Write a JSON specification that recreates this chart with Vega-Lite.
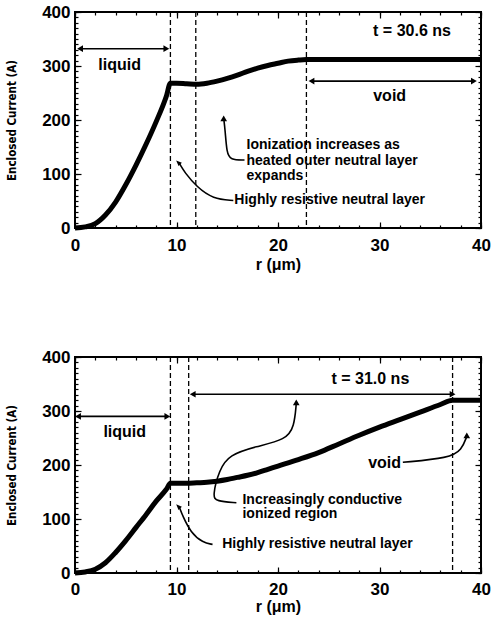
{
  "$schema": "https://vega.github.io/schema/vega-lite/v6.json",
  "background": "white",
  "padding": {"top": 2, "left": 5, "right": 5, "bottom": 0},
  "spacing": 74,
  "config": {
    "view": {"stroke": "black", "strokeWidth": 2},
    "font": "Liberation Sans",
    "axis": {"zindex": 2, "domain": false, "grid": false, "labelFont": "Liberation Sans", "labelFontWeight": "bold", "labelFontSize": 17, "labelColor": "black", "tickColor": "black", "tickWidth": 1.2, "titleColor": "black", "labelFlush": false, "labelOverlap": false}
  },
  "datasets": {
    "curve1": [
      {"r": 0, "I": 0}, {"r": 1, "I": 2}, {"r": 2, "I": 8}, {"r": 3, "I": 24}, {"r": 4, "I": 48}, {"r": 5, "I": 80}, {"r": 6, "I": 116}, {"r": 7, "I": 155}, {"r": 8, "I": 197}, {"r": 9, "I": 244}, {"r": 9.4, "I": 268}, {"r": 10, "I": 268}, {"r": 11, "I": 267}, {"r": 12, "I": 266}, {"r": 13, "I": 268}, {"r": 14, "I": 272}, {"r": 15, "I": 277}, {"r": 16, "I": 283}, {"r": 17, "I": 290}, {"r": 18, "I": 296}, {"r": 19, "I": 301}, {"r": 20, "I": 305}, {"r": 21, "I": 309}, {"r": 22, "I": 311}, {"r": 22.8, "I": 312}, {"r": 30, "I": 312}, {"r": 40, "I": 312}
    ],
    "curve2": [
      {"r": 0, "I": 0}, {"r": 1, "I": 2}, {"r": 2, "I": 7}, {"r": 3, "I": 19}, {"r": 4, "I": 38}, {"r": 5, "I": 60}, {"r": 6, "I": 84}, {"r": 7, "I": 108}, {"r": 8, "I": 133}, {"r": 9, "I": 155}, {"r": 9.4, "I": 166}, {"r": 10, "I": 166}, {"r": 11, "I": 166}, {"r": 12, "I": 167}, {"r": 13, "I": 168}, {"r": 14, "I": 170}, {"r": 15, "I": 173}, {"r": 16, "I": 177}, {"r": 17, "I": 181}, {"r": 18, "I": 186}, {"r": 19, "I": 192}, {"r": 20, "I": 198}, {"r": 22, "I": 210}, {"r": 24, "I": 223}, {"r": 26, "I": 239}, {"r": 28, "I": 255}, {"r": 30, "I": 270}, {"r": 32, "I": 284}, {"r": 34, "I": 298}, {"r": 36, "I": 312}, {"r": 37.2, "I": 320}, {"r": 40, "I": 320}
    ],
    "vlines1": [{"r": 9.4}, {"r": 11.9}, {"r": 22.8}],
    "vlines2": [{"r": 9.4}, {"r": 11.2}, {"r": 37.2}],
    "dbl1": [{"x1": 0.5, "x2": 9.0, "y": 332}, {"x1": 23.3, "x2": 39.3, "y": 272}],
    "dbl2": [{"x1": 0.3, "x2": 9.1, "y": 290}, {"x1": 11.6, "x2": 37.2, "y": 331}],
    "heads1": [
      {"x": 0.5, "y": 332, "dir": "left"}, {"x": 9.0, "y": 332, "dir": "right"}, {"x": 23.3, "y": 272, "dir": "left"}, {"x": 39.3, "y": 272, "dir": "right"}, {"x": 14.65, "y": 203, "dir": "up"}, {"x": 10.3, "y": 119, "dir": "upleft"}
    ],
    "heads2": [
      {"x": 0.3, "y": 290, "dir": "left"}, {"x": 9.1, "y": 290, "dir": "right"}, {"x": 11.6, "y": 331, "dir": "left"}, {"x": 37.2, "y": 331, "dir": "right"}, {"x": 21.8, "y": 316, "dir": "up"}, {"x": 38.6, "y": 255, "dir": "up"}, {"x": 10.3, "y": 121, "dir": "upleft"}
    ],
    "arrows1": [
      {"id": "a", "ord": 1, "x": 16.7, "y": 126}, {"id": "a", "ord": 2, "x": 15.3, "y": 126}, {"id": "a", "ord": 3, "x": 14.95, "y": 140}, {"id": "a", "ord": 4, "x": 14.8, "y": 180}, {"id": "a", "ord": 5, "x": 14.65, "y": 203},
      {"id": "b", "ord": 1, "x": 15.6, "y": 51}, {"id": "b", "ord": 2, "x": 13.6, "y": 54}, {"id": "b", "ord": 3, "x": 12.0, "y": 76}, {"id": "b", "ord": 4, "x": 10.8, "y": 103}, {"id": "b", "ord": 5, "x": 10.3, "y": 119}
    ],
    "arrows2": [
      {"id": "a", "ord": 1, "x": 15.9, "y": 130}, {"id": "a", "ord": 2, "x": 13.9, "y": 133}, {"id": "a", "ord": 3, "x": 13.55, "y": 142}, {"id": "a", "ord": 4, "x": 14.2, "y": 191}, {"id": "a", "ord": 5, "x": 15.2, "y": 219}, {"id": "a", "ord": 6, "x": 17.8, "y": 234}, {"id": "a", "ord": 7, "x": 20.8, "y": 247}, {"id": "a", "ord": 8, "x": 21.6, "y": 271}, {"id": "a", "ord": 9, "x": 21.8, "y": 314},
      {"id": "b", "ord": 1, "x": 32.3, "y": 205}, {"id": "b", "ord": 2, "x": 36.9, "y": 213}, {"id": "b", "ord": 3, "x": 38.1, "y": 228}, {"id": "b", "ord": 4, "x": 38.6, "y": 253},
      {"id": "c", "ord": 1, "x": 13.55, "y": 53}, {"id": "c", "ord": 2, "x": 12.6, "y": 56}, {"id": "c", "ord": 3, "x": 11.4, "y": 75}, {"id": "c", "ord": 4, "x": 10.6, "y": 106}, {"id": "c", "ord": 5, "x": 10.3, "y": 121}
    ],
    "labels1": [{"x": 4.4, "y": 301, "text": "liquid"}, {"x": 31.0, "y": 244, "text": "void"}, {"x": 33.2, "y": 365, "text": "t =   30.6 ns"}],
    "labels2": [{"x": 4.9, "y": 261, "text": "liquid"}, {"x": 30.5, "y": 204, "text": "void"}, {"x": 29.1, "y": 359, "text": "t =   31.0 ns"}],
    "notes1": [
      {"x": 16.9, "y": 153, "text": "Ionization increases as"}, {"x": 16.9, "y": 124, "text": "heated outer neutral layer"}, {"x": 16.9, "y": 96, "text": "expands"}, {"x": 15.7, "y": 51, "text": "Highly resistive neutral layer"}
    ],
    "notes2": [
      {"x": 16.5, "y": 136, "text": "Increasingly conductive"}, {"x": 16.5, "y": 109, "text": "ionized region"}, {"x": 14.5, "y": 53, "text": "Highly resistive neutral layer"}
    ]
  },
  "vconcat": [
    {
      "width": 406, "height": 216,
      "resolve": {"axis": {"x": "independent", "y": "independent"}},
      "layer": [
        {"data": {"name": "curve1"}, "mark": {"type": "line", "color": "black", "strokeWidth": 5, "interpolate": "monotone"},
         "encoding": {
           "x": {"field": "r", "type": "quantitative", "scale": {"domain": [0, 40], "nice": false},
                 "axis": {"orient": "bottom", "values": [0,10,20,30,40], "ticks": false, "labelPadding": 9, "title": "r (μm)", "titleFontSize": 16, "titleFontWeight": "bold", "titleFont": "Liberation Sans", "titlePadding": 3}},
           "y": {"field": "I", "type": "quantitative", "scale": {"domain": [0, 400], "nice": false},
                 "axis": {"orient": "left", "values": [0,100,200,300,400], "ticks": false, "labelPadding": 5, "title": "Enclosed Current (A)", "titleFont": "DejaVu Sans Condensed, Liberation Sans", "titleFontSize": 11.5, "titleFontWeight": "bold", "titlePadding": 24}}
         }},
        {"data": {"name": "arrows1"}, "mark": {"type": "line", "color": "black", "strokeWidth": 1.6, "interpolate": "basis"},
         "encoding": {
           "x": {"field": "x", "type": "quantitative", "axis": {"orient": "top", "offset": -216, "values": [0,2,4,6,8,10,12,14,16,18,20,22,24,26,28,30,32,34,36,38,40], "labels": false, "title": null, "ticks": true, "tickSize": 3}},
           "y": {"field": "y", "type": "quantitative", "axis": {"orient": "right", "offset": -406, "values": [0,10,20,30,40,50,60,70,80,90,100,110,120,130,140,150,160,170,180,190,200,210,220,230,240,250,260,270,280,290,300,310,320,330,340,350,360,370,380,390,400], "labels": false, "title": null, "ticks": true, "tickSize": 3}},
           "detail": {"field": "id"},
           "order": {"field": "ord"}
         }},
        {"data": {"name": "vlines1"}, "mark": {"type": "rule", "color": "black", "strokeWidth": 1.3, "strokeDash": [5, 3]},
         "encoding": {"x": {"field": "r", "type": "quantitative", "axis": null}}},
        {"data": {"name": "dbl1"}, "mark": {"type": "rule", "color": "black", "strokeWidth": 1.6},
         "encoding": {
           "x": {"field": "x1", "type": "quantitative", "axis": {"orient": "bottom", "offset": -216, "values": [0,2,4,6,8,10,12,14,16,18,20,22,24,26,28,30,32,34,36,38,40], "labels": false, "title": null, "ticks": true, "tickSize": 3}},
           "x2": {"field": "x2"},
           "y": {"field": "y", "type": "quantitative", "axis": {"orient": "left", "offset": -406, "values": [0,10,20,30,40,50,60,70,80,90,100,110,120,130,140,150,160,170,180,190,200,210,220,230,240,250,260,270,280,290,300,310,320,330,340,350,360,370,380,390,400], "labels": false, "title": null, "ticks": true, "tickSize": 3}}}},
        {"data": {"name": "heads1"}, "mark": {"type": "point", "filled": true, "color": "black", "size": 45, "opacity": 1},
         "encoding": {
           "x": {"field": "x", "type": "quantitative", "axis": {"orient": "top", "offset": -216, "values": [0,10,20,30,40], "labels": false, "title": null, "ticks": true, "tickSize": 6}},
           "y": {"field": "y", "type": "quantitative", "axis": {"orient": "right", "offset": -406, "values": [0,100,200,300,400], "labels": false, "title": null, "ticks": true, "tickSize": 6}},
           "shape": {"field": "dir", "type": "nominal", "legend": null, "scale": {"domain": ["up", "right", "left", "upleft"], "range": ["triangle-up", "triangle-right", "triangle-left", "M-1,-1L0.7,-0.3L-0.3,0.7Z"]}}}},
        {"data": {"name": "labels1"}, "mark": {"type": "text", "font": "Liberation Sans", "fontWeight": "bold", "fontSize": 16, "align": "center", "baseline": "middle", "color": "black"},
         "encoding": {
           "x": {"field": "x", "type": "quantitative", "axis": {"orient": "bottom", "offset": -216, "values": [0,10,20,30,40], "labels": false, "title": null, "ticks": true, "tickSize": 6}},
           "y": {"field": "y", "type": "quantitative", "axis": {"orient": "left", "offset": -406, "values": [0,100,200,300,400], "labels": false, "title": null, "ticks": true, "tickSize": 6}},
           "text": {"field": "text"}}},
        {"data": {"name": "notes1"}, "mark": {"type": "text", "font": "Liberation Sans", "fontWeight": "bold", "fontSize": 14, "align": "left", "baseline": "middle", "color": "black"},
         "encoding": {"x": {"field": "x", "type": "quantitative", "axis": null}, "y": {"field": "y", "type": "quantitative", "axis": null}, "text": {"field": "text"}}}
      ]
    },
    {
      "width": 406, "height": 216,
      "resolve": {"axis": {"x": "independent", "y": "independent"}},
      "layer": [
        {"data": {"name": "curve2"}, "mark": {"type": "line", "color": "black", "strokeWidth": 5, "interpolate": "monotone"},
         "encoding": {
           "x": {"field": "r", "type": "quantitative", "scale": {"domain": [0, 40], "nice": false},
                 "axis": {"orient": "bottom", "values": [0,10,20,30,40], "ticks": false, "labelPadding": 8, "title": "r (μm)", "titleFontSize": 16, "titleFontWeight": "bold", "titleFont": "Liberation Sans", "titlePadding": 1}},
           "y": {"field": "I", "type": "quantitative", "scale": {"domain": [0, 400], "nice": false},
                 "axis": {"orient": "left", "values": [0,100,200,300,400], "ticks": false, "labelPadding": 5, "title": "Enclosed Current (A)", "titleFont": "DejaVu Sans Condensed, Liberation Sans", "titleFontSize": 11.5, "titleFontWeight": "bold", "titlePadding": 24}}
         }},
        {"data": {"name": "arrows2"}, "mark": {"type": "line", "color": "black", "strokeWidth": 1.6, "interpolate": "basis"},
         "encoding": {
           "x": {"field": "x", "type": "quantitative", "axis": {"orient": "top", "offset": -216, "values": [0,2,4,6,8,10,12,14,16,18,20,22,24,26,28,30,32,34,36,38,40], "labels": false, "title": null, "ticks": true, "tickSize": 3}},
           "y": {"field": "y", "type": "quantitative", "axis": {"orient": "right", "offset": -406, "values": [0,10,20,30,40,50,60,70,80,90,100,110,120,130,140,150,160,170,180,190,200,210,220,230,240,250,260,270,280,290,300,310,320,330,340,350,360,370,380,390,400], "labels": false, "title": null, "ticks": true, "tickSize": 3}},
           "detail": {"field": "id"},
           "order": {"field": "ord"}
         }},
        {"data": {"name": "vlines2"}, "mark": {"type": "rule", "color": "black", "strokeWidth": 1.3, "strokeDash": [5, 3]},
         "encoding": {"x": {"field": "r", "type": "quantitative", "axis": null}}},
        {"data": {"name": "dbl2"}, "mark": {"type": "rule", "color": "black", "strokeWidth": 1.6},
         "encoding": {
           "x": {"field": "x1", "type": "quantitative", "axis": {"orient": "bottom", "offset": -216, "values": [0,2,4,6,8,10,12,14,16,18,20,22,24,26,28,30,32,34,36,38,40], "labels": false, "title": null, "ticks": true, "tickSize": 3}},
           "x2": {"field": "x2"},
           "y": {"field": "y", "type": "quantitative", "axis": {"orient": "left", "offset": -406, "values": [0,10,20,30,40,50,60,70,80,90,100,110,120,130,140,150,160,170,180,190,200,210,220,230,240,250,260,270,280,290,300,310,320,330,340,350,360,370,380,390,400], "labels": false, "title": null, "ticks": true, "tickSize": 3}}}},
        {"data": {"name": "heads2"}, "mark": {"type": "point", "filled": true, "color": "black", "size": 45, "opacity": 1},
         "encoding": {
           "x": {"field": "x", "type": "quantitative", "axis": {"orient": "top", "offset": -216, "values": [0,10,20,30,40], "labels": false, "title": null, "ticks": true, "tickSize": 6}},
           "y": {"field": "y", "type": "quantitative", "axis": {"orient": "right", "offset": -406, "values": [0,100,200,300,400], "labels": false, "title": null, "ticks": true, "tickSize": 6}},
           "shape": {"field": "dir", "type": "nominal", "legend": null, "scale": {"domain": ["up", "right", "left", "upleft"], "range": ["triangle-up", "triangle-right", "triangle-left", "M-1,-1L0.7,-0.3L-0.3,0.7Z"]}}}},
        {"data": {"name": "labels2"}, "mark": {"type": "text", "font": "Liberation Sans", "fontWeight": "bold", "fontSize": 16, "align": "center", "baseline": "middle", "color": "black"},
         "encoding": {
           "x": {"field": "x", "type": "quantitative", "axis": {"orient": "bottom", "offset": -216, "values": [0,10,20,30,40], "labels": false, "title": null, "ticks": true, "tickSize": 6}},
           "y": {"field": "y", "type": "quantitative", "axis": {"orient": "left", "offset": -406, "values": [0,100,200,300,400], "labels": false, "title": null, "ticks": true, "tickSize": 6}},
           "text": {"field": "text"}}},
        {"data": {"name": "notes2"}, "mark": {"type": "text", "font": "Liberation Sans", "fontWeight": "bold", "fontSize": 14, "align": "left", "baseline": "middle", "color": "black"},
         "encoding": {"x": {"field": "x", "type": "quantitative", "axis": null}, "y": {"field": "y", "type": "quantitative", "axis": null}, "text": {"field": "text"}}}
      ]
    }
  ]
}
